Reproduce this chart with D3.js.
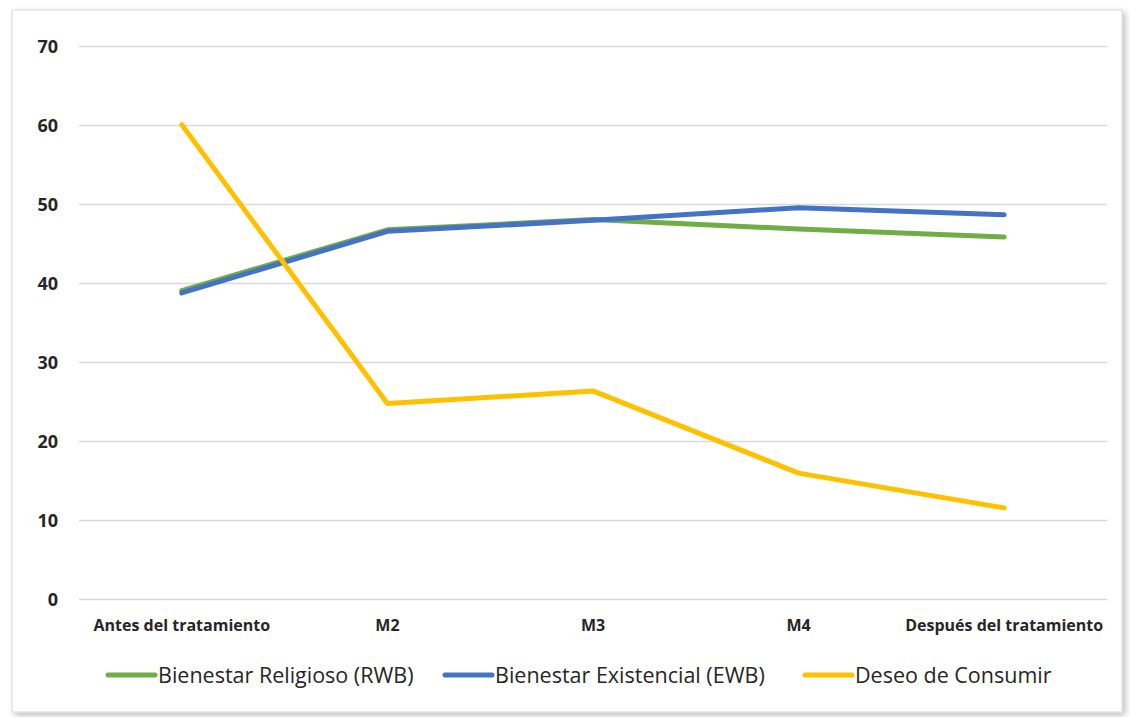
<!DOCTYPE html>
<html>
<head>
<meta charset="utf-8">
<script src="https://cdn.jsdelivr.net/npm/d3@7"></script>
<style>
  html, body { margin: 0; padding: 0; background: #fff; }
  svg { display: block; }
  text { font-family: "Open Sans", "Liberation Sans", sans-serif; fill: #262626; }
</style>
</head>
<body>
<svg id="chart" width="1130" height="717"></svg>
<script>
// Measurement points along the treatment
const categories = ["Antes del tratamiento", "M2", "M3", "M4", "Después del tratamiento"];

// Series values per measurement point
const religioso  = [39.1, 46.8, 48.1, 46.9, 45.9];
const existencial = [38.8, 46.6, 48.0, 49.6, 48.7];
const deseo      = [60.1, 24.8, 26.4, 16.0, 11.6];

const seriesNames  = ["Bienestar Religioso (RWB)", "Bienestar Existencial (EWB)", "Deseo de Consumir"];
const seriesColors = ["#70AD47", "#4472C4", "#FFC000"];
const yTicks = [0, 10, 20, 30, 40, 50, 60, 70];

const series = [religioso, existencial, deseo].map((values, i) => ({
  name: seriesNames[i], color: seriesColors[i], values
}));

const svg = d3.select("#chart");

// Panel with a soft drop shadow
const defs = svg.append("defs");
const f = defs.append("filter").attr("id", "shadow")
  .attr("x", "-5%").attr("y", "-5%").attr("width", "110%").attr("height", "110%");
f.append("feDropShadow").attr("dx", 3).attr("dy", 3).attr("stdDeviation", 3)
  .attr("flood-color", "#000").attr("flood-opacity", 0.25);

svg.append("rect")
  .attr("x", 12).attr("y", 10).attr("width", 1110).attr("height", 702)
  .attr("fill", "#fff").attr("stroke", "#d9d9d9").attr("stroke-width", 1)
  .attr("filter", "url(#shadow)");

const plot = { left: 79, right: 1107, top: 46.5, bottom: 599.5 };

const x = d3.scaleBand().domain(categories).range([plot.left, plot.right]).padding(0);
const y = d3.scaleLinear().domain([0, 70]).range([plot.bottom, plot.top]);

// Horizontal gridlines
svg.append("g")
  .selectAll("line").data(yTicks).join("line")
  .attr("x1", plot.left).attr("x2", plot.right)
  .attr("y1", d => y(d)).attr("y2", d => y(d))
  .attr("stroke", "#d9d9d9").attr("stroke-width", 1.5);

// Y axis labels
const yAxis = svg.append("g")
  .attr("transform", `translate(${plot.left - 21},0)`)
  .call(d3.axisLeft(y).tickValues(yTicks).tickSize(0).tickPadding(0));
yAxis.select(".domain").remove();
yAxis.selectAll("text")
  .style("font-family", "'Open Sans', 'Liberation Sans', sans-serif")
  .style("font-size", "18px").style("font-weight", "bold").attr("fill", "#262626");

// X axis labels
const xAxis = svg.append("g")
  .attr("transform", `translate(0,${plot.bottom + 20})`)
  .call(d3.axisBottom(x).tickSize(0).tickPadding(0));
xAxis.select(".domain").remove();
xAxis.selectAll("text")
  .style("font-family", "'Open Sans', 'Liberation Sans', sans-serif")
  .style("font-size", "16px").style("font-weight", "bold").attr("fill", "#262626")
  .attr("dy", "0.71em");

// Series lines
const line = d3.line()
  .x((d, i) => x(categories[i]) + x.bandwidth() / 2)
  .y(d => y(d));

svg.append("g")
  .selectAll("path").data(series).join("path")
  .attr("d", d => line(d.values))
  .attr("fill", "none")
  .attr("stroke", d => d.color)
  .attr("stroke-width", 5)
  .attr("stroke-linejoin", "round")
  .attr("stroke-linecap", "round");

// Legend
const legendX = [108, 445, 805];
const legend = svg.append("g").attr("transform", "translate(0,675)");
const item = legend.selectAll("g").data(series).join("g")
  .attr("transform", (d, i) => `translate(${legendX[i]},0)`);
item.append("line")
  .attr("x1", 0).attr("x2", 47).attr("y1", 0).attr("y2", 0)
  .attr("stroke", d => d.color).attr("stroke-width", 5).attr("stroke-linecap", "round");
item.append("text")
  .attr("x", 50).attr("y", 0).attr("dy", "0.35em")
  .style("font-size", "21.5px").style("font-weight", "500")
  .attr("fill", "#1f1f1f")
  .text(d => d.name);
</script>
</body>
</html>
